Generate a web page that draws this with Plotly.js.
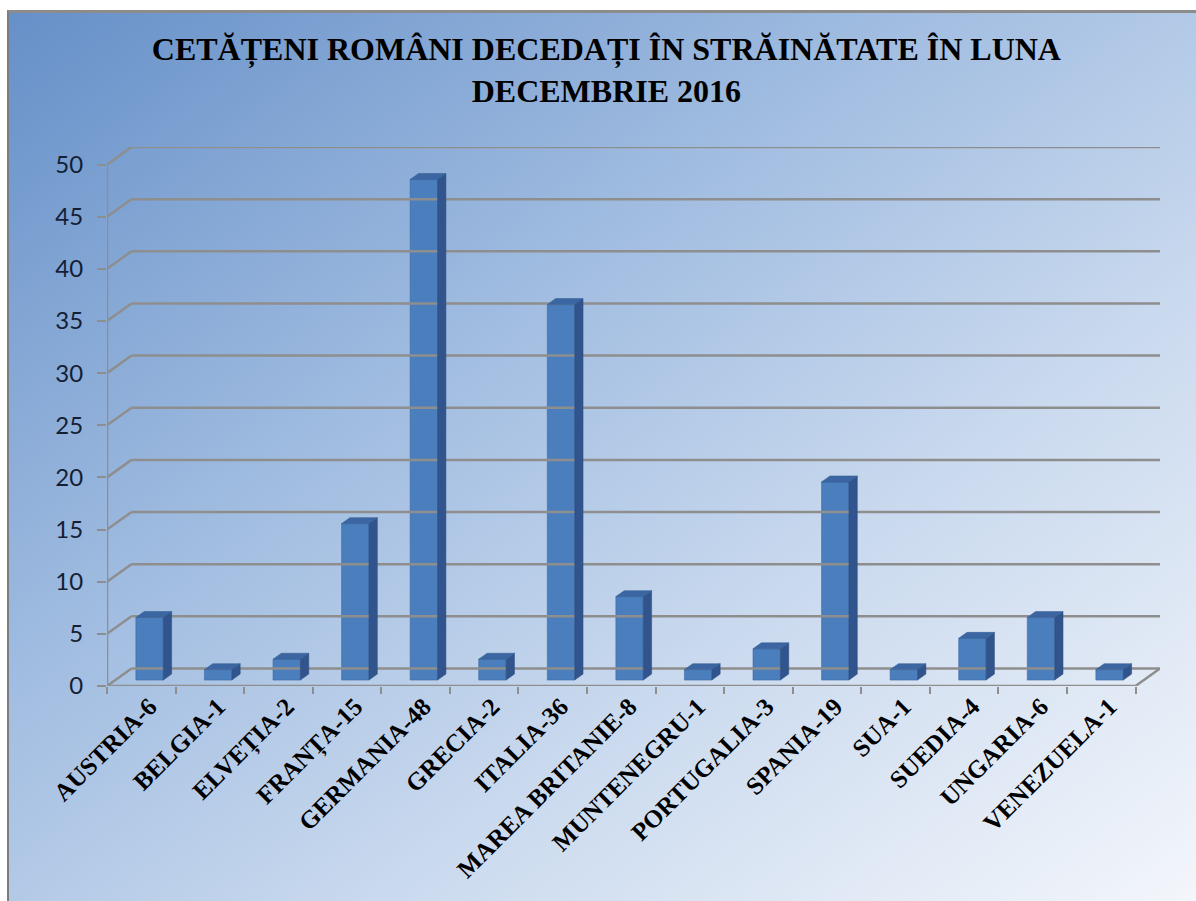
<!DOCTYPE html>
<html><head><meta charset="utf-8">
<script src="https://cdn.plot.ly/plotly-3.0.1.min.js"></script>
<style>
html,body{margin:0;padding:0;background:#fff;width:1196px;height:901px;overflow:hidden}
#bg{position:absolute;left:7px;top:10px;width:1189px;height:891px;box-sizing:border-box;border-top:3px solid #8c8c8c;border-left:2px solid #7d7d7d;background:linear-gradient(to bottom right,#6690c8 0%,#a4bfe2 40%,#c9d9ee 65%,#f3f6fb 100%)}
#chart{position:absolute;left:0;top:0;width:1196px;height:901px}
</style></head><body><div id="bg"></div><div id="chart"></div>
<script>
// ---- data ----
const countries = ["AUSTRIA","BELGIA","ELVEȚIA","FRANȚA","GERMANIA","GRECIA","ITALIA","MAREA BRITANIE","MUNTENEGRU","PORTUGALIA","SPANIA","SUA","SUEDIA","UNGARIA","VENEZUELA"];
const deaths = [6,1,2,15,48,2,36,8,1,3,19,1,4,6,1];
const tickLabels = ["AUSTRIA-6","BELGIA-1","ELVEȚIA-2","FRANȚA-15","GERMANIA-48","GRECIA-2","ITALIA-36","MAREA BRITANIE-8","MUNTENEGRU-1","PORTUGALIA-3","SPANIA-19","SUA-1","SUEDIA-4","UNGARIA-6","VENEZUELA-1"];
const yTicks = [0,5,10,15,20,25,30,35,40,45,50];
const titleText = "CETĂȚENI ROMÂNI DECEDAȚI ÎN STRĂINĂTATE ÎN LUNA<br>DECEMBRIE 2016";

// ---- 3D look parameters (in axis units) ----
const DX = 0.357, DY = 1.68;     // depth offset of back wall
const F0 = 0.34, F1 = 0.68;      // bar front / back depth fractions
const W = 0.40;                  // bar width
const LBL = 0.12;                // label offset to the right
const n = countries.length;
const idx = countries.map((c,i)=>i);
const yMax = yTicks[yTicks.length-1];
const grey = '#8e8e8e';

// wall / floor lines
const lx = [], ly = [];
function seg(x0,y0,x1,y1){ lx.push(x0,x1,null); ly.push(y0,y1,null); }
yTicks.forEach(v=>{
  seg(-0.5+DX, v+DY, n-0.5+DX, v+DY);    // back wall gridline
  seg(-0.5, v, -0.5+DX, v+DY);           // side wall gridline
});
seg(-0.5, 0, -0.5, yMax);                 // front vertical axis
seg(-0.5, 0, n-0.5, 0);                   // floor front edge
seg(n-0.5, 0, n-0.5+DX, DY);              // floor right edge

// bar side and top faces
const sx=[], sy=[], tx=[], ty=[];
const dx=(F1-F0)*DX, dy=(F1-F0)*DY, b0=F0*DY;
deaths.forEach((v,i)=>{
  const xc = i + F0*DX, xl = xc-W/2, xr = xc+W/2, top = v+b0;
  sx.push(xr, xr+dx, xr+dx, xr, xr, null);
  sy.push(b0, b0+dy, top+dy, top, b0, null);
  tx.push(xl, xr, xr+dx, xl+dx, xl, null);
  ty.push(top, top, top+dy, top+dy, top, null);
});

const traces = [
  {type:'scatter', mode:'lines', x:lx, y:ly, line:{color:grey, width:2.5}, hoverinfo:'skip', showlegend:false},
  {type:'bar', x:idx.map(i=>i+F0*DX), y:deaths, base:b0, width:W,
   marker:{color:'#4a7ebd', line:{color:'#3d6aa3', width:0.6}}, showlegend:false,
   textposition:'none', hoverinfo:'y'},
  {type:'scatter', mode:'lines', x:sx, y:sy, fill:'toself', fillcolor:'#30548b', line:{width:0.5,color:'#2d4f82'}, hoverinfo:'skip', showlegend:false},
  {type:'scatter', mode:'lines', x:tx, y:ty, fill:'toself', fillcolor:'#3b66a1', line:{width:0.5,color:'#335c92'}, hoverinfo:'skip', showlegend:false}
];

const layout = {
  width:1196, height:901,
  paper_bgcolor:'rgba(0,0,0,0)', plot_bgcolor:'rgba(0,0,0,0)',
  margin:{l:107, r:36, t:147, b:215},
  title:{text:titleText, x:0.507, xanchor:'center', yref:'container', y:0.933, yanchor:'middle',
         font:{family:'Liberation Serif', size:32, color:'#000', weight:700}},
  xaxis:{range:[-0.5, n-0.5+DX], showgrid:false, zeroline:false, showline:false,
         tickmode:'array', tickvals:idx.map(i=>i+LBL), ticktext:tickLabels, tickangle:-45, ticks:'',
         tickfont:{family:'Liberation Serif', size:25, color:'#000', weight:700},
         minor:{ticks:'outside', tickmode:'linear', tick0:-0.5, dtick:1, ticklen:7, tickwidth:2, tickcolor:grey, showgrid:false}},
  yaxis:{range:[0, yMax+DY], showgrid:false, zeroline:false, showline:false,
         tickmode:'array', tickvals:yTicks, ticks:'outside', ticklen:9, tickwidth:2, tickcolor:grey,
         tickfont:{family:'Lato', size:24, color:'#141f36'}, ticklabelstandoff:9},
  bargap:0
};
Plotly.newPlot('chart', traces, layout, {displayModeBar:false, staticPlot:true});
</script></body></html>
